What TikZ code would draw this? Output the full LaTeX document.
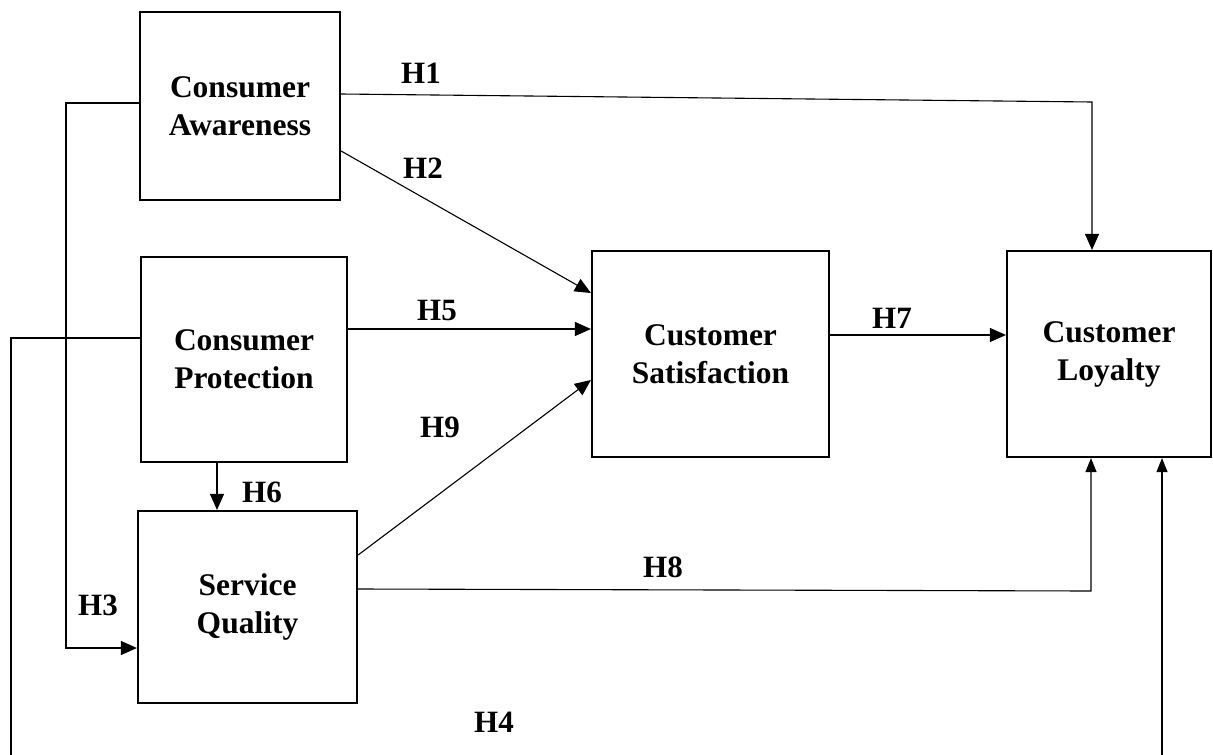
\documentclass[tikz,border=0pt]{standalone}
\usepackage{fontspec}
\setmainfont{Liberation Serif}
\usetikzlibrary{arrows.meta}
\begin{document}
\begin{tikzpicture}[x=1pt,y=-1pt,
  box/.style={draw,line width=2.2pt,align=center,inner sep=0pt,
    font=\fontsize{31.5}{38}\selectfont\bfseries},
  conn/.style={draw,line width=1.1pt,-{Triangle[length=16pt,width=14pt]}},
  connsm/.style={draw,line width=1.1pt,-{Triangle[length=14pt,width=11pt]}},
  lab/.style={font=\fontsize{31}{36}\selectfont\bfseries,inner sep=0pt}]
\useasboundingbox (0,0) rectangle (1213,755);
\clip (0,0) rectangle (1213,755);
% boxes
\node[box,minimum width=200pt,minimum height=188pt] (ca) at (240,106) {Consumer\\Awareness};
\node[box,minimum width=206pt,minimum height=205pt] (cp) at (244,359.5) {Consumer\\Protection};
\node[box,minimum width=219pt,minimum height=192pt] (sq) at (247.5,607) {Service\\Quality};
\node[box,minimum width=237pt,minimum height=206pt] (cs) at (710.5,354) {Customer\\Satisfaction};
\node[box,minimum width=204pt,minimum height=206pt] (cl) at (1109,354) {Customer\\Loyalty};
% corner coordinates
\coordinate (h1c) at (1092,102);
\coordinate (h8c) at (1091,591);
\coordinate (h3a) at (66,103);
\coordinate (h3b) at (66,648);
\coordinate (h4a) at (11,338);
\coordinate (h4b) at (11,790);
\coordinate (h4c) at (1162,790);
% connectors
\draw[conn] ([yshift=12pt]ca.east) -- (h1c) -- ([xshift=-17pt]cl.north);
\draw[conn] ([yshift=-45pt]ca.east) -- ([yshift=61pt]cs.west);
\draw[conn] ([yshift=30.5pt]cp.east) -- ([yshift=25pt]cs.west);
\draw[conn] ([yshift=19pt]cs.east) -- ([yshift=19pt]cl.west);
\draw[conn] ([yshift=52pt]sq.east) -- ([yshift=-26pt]cs.west);
\draw[connsm] ([yshift=18pt]sq.east) -- (h8c) -- ([xshift=-18pt]cl.south);
\draw[conn] ([xshift=-27pt]cp.south) -- ([xshift=-30.5pt]sq.north);
\draw[conn] ([yshift=3pt]ca.west) -- (h3a) -- (h3b) -- ([yshift=-41pt]sq.west);
\draw[connsm] ([yshift=21.5pt]cp.west) -- (h4a) -- (h4b) -- (h4c) -- ([xshift=53pt]cl.south);
% labels
\node[lab] (l1) at (421,73) {H1};
\node[lab] (l2) at (423,168) {H2};
\node[lab] (l5) at (437,310) {H5};
\node[lab] (l7) at (892,318) {H7};
\node[lab] (l9) at (440,427) {H9};
\node[lab] (l6) at (262,492) {H6};
\node[lab] (l3) at (98,605) {H3};
\node[lab] (l8) at (663,567) {H8};
\node[lab] (l4) at (494,722) {H4};
\end{tikzpicture}
\end{document}
